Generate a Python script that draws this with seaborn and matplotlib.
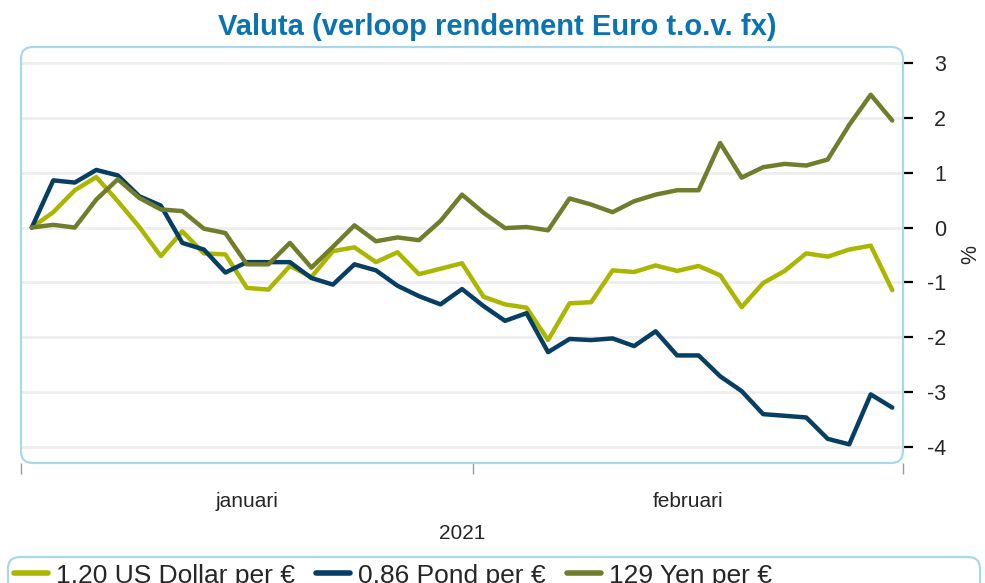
#%%
import numpy as np
import pandas as pd
import seaborn as sns
from matplotlib import pyplot as plt
from matplotlib import patches as mpatches
from matplotlib.transforms import IdentityTransform
from matplotlib.lines import Line2D

#%%
# rendement per handelsdag (jan + feb 2021), in %
usd = [0, 0.28, 0.68, 0.92, 0.48, 0.01, -0.52, -0.07, -0.47, -0.49,
       -1.10, -1.13, -0.70, -0.90, -0.43, -0.36, -0.63, -0.45, -0.85, -0.75,
       -0.65, -1.26, -1.40, -1.46, -2.05, -1.38, -1.36, -0.78, -0.81, -0.69,
       -0.79, -0.70, -0.87, -1.45, -1.01, -0.79, -0.47, -0.53, -0.40, -0.33,
       -1.14]
pond = [0, 0.86, 0.82, 1.05, 0.95, 0.57, 0.40, -0.28, -0.40, -0.82,
        -0.63, -0.63, -0.63, -0.92, -1.04, -0.67, -0.78, -1.06, -1.25, -1.40,
        -1.12, -1.43, -1.70, -1.56, -2.27, -2.03, -2.05, -2.02, -2.16, -1.89,
        -2.33, -2.33, -2.71, -2.98, -3.40, -3.43, -3.46, -3.85, -3.95, -3.04,
        -3.28]
yen = [0, 0.05, 0.00, 0.51, 0.88, 0.54, 0.33, 0.30, -0.02, -0.10,
       -0.67, -0.67, -0.28, -0.73, -0.35, 0.04, -0.25, -0.18, -0.23, 0.12,
       0.60, 0.27, -0.01, 0.01, -0.05, 0.53, 0.42, 0.28, 0.48, 0.60,
       0.68, 0.68, 1.54, 0.91, 1.10, 1.16, 1.13, 1.24, 1.87, 2.42,
       1.95]

labels = ['1,20 US Dollar per €', '0,86 Pond per €', '129 Yen per €']
colors = ['#a9b700', '#063f63', '#717d2c']
months = ['januari', 'februari']
month_pos = [10, 30.5]
month_edges = [-0.5, 20.5, 40.5]

#%%
df = pd.DataFrame({'dag': np.arange(len(usd)),
                   labels[0]: usd, labels[1]: pond, labels[2]: yen})
df = df.melt(id_vars='dag', var_name='valuta', value_name='rendement')

sns.set_style('white')
plt.rcParams['font.family'] = ['Liberation Sans', 'DejaVu Sans']
plt.rcParams['axes.unicode_minus'] = False

W, H = 985, 583
fig = plt.figure(figsize=(W / 100, H / 100), dpi=100)
ax = fig.add_axes([21 / W, 1 - 463 / H, 882 / W, 416 / H])

sns.lineplot(data=df, x='dag', y='rendement', hue='valuta',
             palette=dict(zip(labels, colors)), linewidth=3.2,
             legend=False, ax=ax)

ax.set_xlim(-0.5, 40.5)
ax.set_ylim(-4.29, 3.29)
for s in ax.spines.values():
    s.set_visible(False)

ax.yaxis.tick_right()
ax.yaxis.set_label_position('right')
ax.set_yticks(range(-4, 4))
ax.tick_params(axis='y', length=7, width=1.6, color='black', pad=24,
               labelsize=15.5)
for t in ax.get_yticklabels():
    t.set_ha('right')
ax.grid(axis='y', color='#eeeeee', lw=2)
ax.grid(axis='x', visible=False)
ax.set_axisbelow(True)
ax.set_ylabel('%', fontsize=15.5, labelpad=10)

ax.set_xticks(month_pos)
ax.set_xticklabels(months)
ax.set_xticks(month_edges, minor=True)
ax.tick_params(axis='x', which='major', length=0, pad=21, labelsize=15)
ax.tick_params(axis='x', which='minor', length=8, width=1, color='#999999',
               bottom=True)
ax.set_xlabel('2021', fontsize=15, labelpad=9)

# afgeronde kaders
frame = mpatches.FancyBboxPatch((21, H - 463), 882, 416,
                                boxstyle='round,pad=0,rounding_size=12',
                                transform=IdentityTransform(),
                                fc='none', ec='#a9d9e8', lw=1.6)
fig.add_artist(frame)
leg_frame = mpatches.FancyBboxPatch((8, -20), 972, H - 557 + 20,
                                    boxstyle='round,pad=0,rounding_size=12',
                                    transform=IdentityTransform(),
                                    fc='none', ec='#a9d9e8', lw=1.6)
fig.add_artist(leg_frame)

handles = [Line2D([], [], color=c, lw=4) for c in colors]
fig.legend(handles, labels, loc='upper left',
           bbox_to_anchor=(3 / W, 1 - 553 / H), ncol=3, frameon=False,
           fontsize=19, handlelength=1.3, handletextpad=0.3,
           columnspacing=0.8, borderaxespad=0)

fig.text(497 / W, 1 - 27 / H, 'Valuta (verloop rendement Euro t.o.v. fx)',
         ha='center', va='center', fontsize=21, fontweight='bold',
         color='#0a74b2')

plt.savefig('out.png', dpi=100)
